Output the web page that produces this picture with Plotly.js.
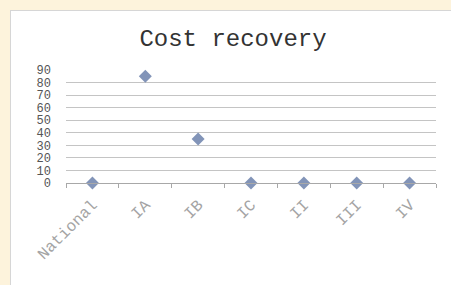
<!DOCTYPE html>
<html>
<head>
<meta charset="utf-8">
<script src="https://cdn.plot.ly/plotly-3.0.1.min.js"></script>
<style>
  html, body { margin: 0; padding: 0; width: 451px; height: 285px; overflow: hidden; background: #fdf3dc; }
  #frame { position: absolute; left: 10px; top: 10px; width: 441px; height: 275px; background: #ffffff; border-left: 1px solid #d6d6d6; border-top: 1px solid #d6d6d6; box-sizing: border-box; }
  #chart { position: absolute; left: 0; top: 0; width: 440px; height: 274px; }
</style>
</head>
<body>
<div id="frame"><div id="chart"></div></div>
<script>
const categories = ["National", "IA", "IB", "IC", "II", "III", "IV"];
const costRecovery = [0, 85, 35, 0, 0, 0, 0];
const yTickValues = [0, 10, 20, 30, 40, 50, 60, 70, 80, 90];
const chartTitle = "Cost recovery";

const mono = "Courier New, Liberation Mono, monospace";

const trace = {
  type: "scatter",
  mode: "markers",
  x: categories,
  y: costRecovery,
  marker: { symbol: "diamond", size: 10, color: "#8294b8" },
  cliponaxis: false,
  hoverinfo: "skip"
};

const layout = {
  width: 440,
  height: 274,
  margin: { l: 55, r: 15, t: 59, b: 102, pad: 0 },
  paper_bgcolor: "rgba(0,0,0,0)",
  plot_bgcolor: "rgba(0,0,0,0)",
  showlegend: false,
  title: {
    text: chartTitle,
    font: { family: mono, size: 24, color: "#333333" },
    x: (232 - 10) / 440, xanchor: "center",
    y: 1 - 27 / 274, yanchor: "middle", yref: "container"
  },
  xaxis: {
    type: "category",
    range: [-0.5, 6.5],
    tickson: "boundaries",
    ticks: "outside",
    ticklen: 4,
    tickcolor: "#a8a8a8",
    showline: true,
    linecolor: "#a8a8a8",
    linewidth: 1,
    showgrid: false,
    zeroline: false,
    tickangle: -45,
    ticklabelstandoff: 5,
    tickfont: { family: mono, size: 16, color: "#a4a4a4" },
    fixedrange: true
  },
  yaxis: {
    range: [0, 90],
    tickvals: yTickValues,
    ticktext: yTickValues.map(String),
    showgrid: true,
    gridcolor: "#c4c4c4",
    gridwidth: 1,
    zeroline: false,
    showline: false,
    ticks: "",
    ticklabelstandoff: 14,
    tickfont: { family: mono, size: 12, color: "#555555" },
    fixedrange: true
  }
};

Plotly.newPlot("chart", [trace], layout, { displayModeBar: false, staticPlot: true });
</script>
</body>
</html>
